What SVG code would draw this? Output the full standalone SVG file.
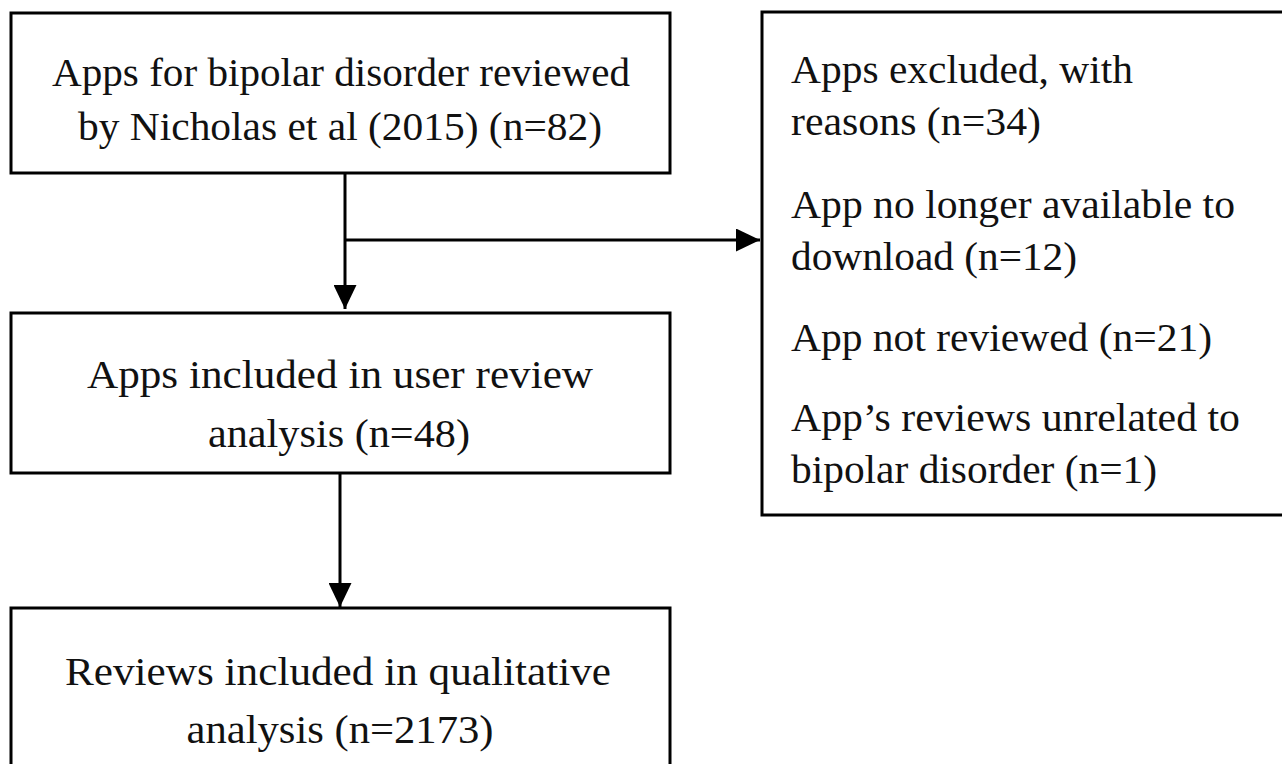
<svg xmlns="http://www.w3.org/2000/svg" width="1282" height="764" viewBox="0 0 1282 764">
  <style>
    .box { fill: #ffffff; stroke: #000000; stroke-width: 3; }
    .t { font-family: "Liberation Serif", "Times New Roman", serif; font-size: 41px; fill: #111111; }
    .c { text-anchor: middle; }
    .conn { stroke: #000000; stroke-width: 3; fill: none; }
  </style>
  <defs>
    <marker id="arrow" viewBox="0 0 24 23" refX="24" refY="11.5" markerWidth="24" markerHeight="23" markerUnits="userSpaceOnUse" orient="auto">
      <path d="M0,0 L24,11.5 L0,23 Z" fill="#000000"/>
    </marker>
  </defs>
  <rect width="1282" height="764" fill="#ffffff"/>

  <g id="node-source">
    <rect class="box" x="11" y="13" width="659" height="160"/>
    <text class="t c" x="341" y="86" textLength="578" lengthAdjust="spacingAndGlyphs">Apps for bipolar disorder reviewed</text>
    <text class="t c" x="340" y="140" textLength="524" lengthAdjust="spacingAndGlyphs">by Nicholas et al (2015) (n=82)</text>
  </g>

  <g id="node-included">
    <rect class="box" x="11" y="313" width="659" height="160"/>
    <text class="t c" x="340" y="388" textLength="506" lengthAdjust="spacingAndGlyphs">Apps included in user review</text>
    <text class="t c" x="339" y="447" textLength="262" lengthAdjust="spacingAndGlyphs">analysis (n=48)</text>
  </g>

  <g id="node-reviews">
    <rect class="box" x="11" y="608" width="659" height="180"/>
    <text class="t c" x="338" y="685" textLength="546" lengthAdjust="spacingAndGlyphs">Reviews included in qualitative</text>
    <text class="t c" x="340" y="743" textLength="307" lengthAdjust="spacingAndGlyphs">analysis (n=2173)</text>
  </g>

  <g id="node-excluded">
    <rect class="box" x="762" y="12" width="540" height="503"/>
    <text class="t" x="791" y="83" textLength="342" lengthAdjust="spacingAndGlyphs">Apps excluded, with</text>
    <text class="t" x="791" y="135" textLength="250" lengthAdjust="spacingAndGlyphs">reasons (n=34)</text>
    <text class="t" x="791" y="218" textLength="444" lengthAdjust="spacingAndGlyphs">App no longer available to</text>
    <text class="t" x="791" y="270" textLength="286" lengthAdjust="spacingAndGlyphs">download (n=12)</text>
    <text class="t" x="791" y="351" textLength="421" lengthAdjust="spacingAndGlyphs">App not reviewed (n=21)</text>
    <text class="t" x="791" y="431" textLength="449" lengthAdjust="spacingAndGlyphs">App’s reviews unrelated to</text>
    <text class="t" x="791" y="483" textLength="366" lengthAdjust="spacingAndGlyphs">bipolar disorder (n=1)</text>
  </g>

  <g id="connectors">
    <line class="conn" x1="345" y1="173" x2="345" y2="309" marker-end="url(#arrow)"/>
    <line class="conn" x1="345" y1="240" x2="760" y2="240" marker-end="url(#arrow)"/>
    <line class="conn" x1="340" y1="473" x2="340" y2="607" marker-end="url(#arrow)"/>
  </g>
</svg>
